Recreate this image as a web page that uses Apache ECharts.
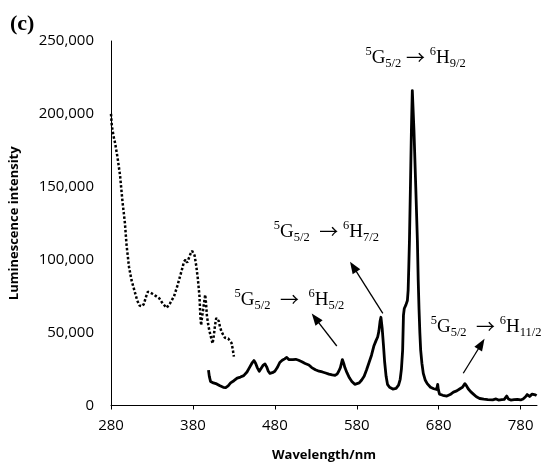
<!DOCTYPE html>
<html>
<head>
<meta charset="utf-8">
<script src="https://cdn.jsdelivr.net/npm/echarts@6/dist/echarts.min.js"></script>
<style>
  html, body { margin: 0; padding: 0; background: #fff; }
  #main { width: 550px; height: 470px; }
</style>
</head>
<body>
<div id="main"></div>
<script>
// excitation spectrum (dotted), [wavelength nm, intensity]
var excitation = [
  [280, 200000], [281, 192000], [283, 185000], [285, 180000], [288, 170000],
  [291, 158000], [294, 140000], [297, 125000], [299, 110000], [302, 95000],
  [305, 86000], [309, 78000], [312, 72000], [315, 68500], [318, 68000],
  [320, 69500], [323, 75000], [325, 78000], [328, 77500], [331, 76500],
  [335, 75000], [339, 73500], [343, 70000], [348, 67000], [352, 70000],
  [357, 75000], [361, 82000], [364, 88000], [367, 94000], [369, 98500],
  [371, 100000], [373, 98000], [375, 97000], [377, 104000], [379, 106000],
  [380, 105500], [382, 103000], [384, 96000], [386, 87000], [388, 75000],
  [389, 62000], [390, 55000], [391, 60000], [392.5, 66000], [394, 72000],
  [395, 76000], [396, 70000], [397, 62000], [398.5, 56000], [400, 51500],
  [402, 47000], [404, 42500], [405.5, 48000], [407, 55000], [408.5, 60000],
  [410, 61000], [411.5, 58000], [413, 54000], [415, 50500], [417, 48500],
  [419, 46500], [421, 47000], [423, 46000], [425, 45500], [427, 43000],
  [428.5, 39000], [430, 33500]
];

// emission spectrum (solid)
var emission = [
  [399, 24300], [400, 20000], [401.5, 16500], [405, 15500], [409, 14800],
  [413, 13500], [417, 12500], [420, 12300], [423, 13500], [426, 15500],
  [430, 17000], [434, 18800], [438, 19500], [442, 20500], [446, 23000],
  [449, 26000], [452, 29000], [454.5, 30800], [456.5, 29000], [458.5, 26000],
  [461, 23500], [463, 24500], [465.5, 27500], [468, 28500], [470, 26500],
  [472, 23500], [474, 22000], [477, 22500], [480, 23500], [483, 26000],
  [486, 29500], [489, 31000], [492, 32000], [494.5, 33000], [497, 31500],
  [499, 30500], [502, 31500], [505.5, 31700], [509, 31000], [513, 30000],
  [517, 28800], [521.5, 27800], [525, 26000], [529.5, 24500], [534, 23500],
  [538, 23000], [542, 22300], [546, 21500], [550, 21000], [553.5, 20700],
  [556, 21500], [558, 23500], [560, 26000], [562.4, 31500], [564, 29000],
  [565.5, 26000], [568, 22500], [571, 19000], [574, 16500], [577.6, 14500],
  [580, 14000], [583, 15500], [586, 17500], [589, 20000], [592, 24500],
  [595, 29500], [598, 34500], [601, 41000], [603.5, 44500], [605.5, 47000],
  [607, 51000], [608.5, 58000], [609.5, 60500], [611, 53000], [612.5, 42000],
  [614, 30000], [615.8, 20000], [617.5, 14500], [620, 12500], [624, 11300],
  [628, 11800], [631, 14000], [633, 18000], [634.5, 25000], [636, 38000],
  [637, 62000], [638, 66500], [640, 69000], [641.8, 72000], [642.7, 79000],
  [643.5, 95000], [644.3, 113000], [645.5, 150000], [646.7, 189000], [647.8, 216000],
  [649.8, 189000], [652, 150000], [654, 113000], [655, 86000], [656, 66000],
  [657, 50000], [658, 38000], [659.5, 29000], [661.2, 22000], [663.5, 17500],
  [666, 15000], [670, 12500], [674, 11500], [677.5, 11000], [678.8, 14500],
  [679.5, 11000], [681, 7800], [685, 7000], [690, 6500], [694, 7500],
  [698, 9200], [702, 10000], [706, 11500], [709, 12500], [712, 15000],
  [714, 13500], [716, 11500], [719, 9500], [722, 8000], [726, 6000],
  [730, 4800], [735, 4300], [740, 4000], [746, 3900], [750, 4500],
  [753, 3700], [757, 4000], [760, 4200], [763, 6500], [765, 4500],
  [768, 3700], [772, 4000], [776, 4200], [780, 3800], [783, 4500],
  [786, 6000], [788, 7500], [791, 6200], [794, 7800], [796, 7000],
  [798, 7300], [799.5, 6800]
];

var xTicks = [280, 380, 480, 580, 680, 780];

// transition labels: text position and arrow [from, to] in data units
var transitions = [
  { text: '{sup|5}{b|G}{sub|5/2}{b| }{arr|→}{b| }{sup|6}{b|H}{sub|9/2}', at: [651.8, 238300], arrow: null },
  { text: '{sup|5}{b|G}{sub|5/2}{b|  }{arr|→}{b| }{sup|6}{b|H}{sub|7/2}', at: [542.9, 119000], arrow: [[611.8, 63200], [575.7, 95200]] },
  { text: '{sup|5}{b|G}{sub|5/2}{b|  }{arr|→}{b|  }{sup|6}{b|H}{sub|5/2}', at: [497.8, 72400], arrow: [[555.6, 40800], [529.5, 59800]] },
  { text: '{sup|5}{b|G}{sub|5/2}{b|  }{arr|→}{b| }{sup|6}{b|H}{sub|11/2}', at: [737.9, 54000], arrow: [[710, 22100], [732.1, 42200]] }
];

var serif = 'Liberation Serif';
var rich = {
  b: { fontFamily: serif, fontSize: 19, lineHeight: 25, color: '#000' },
  arr: { fontFamily: 'Noto Sans CJK SC', fontSize: 19, lineHeight: 25, color: '#000' },
  sup: { fontFamily: serif, fontSize: 12.5, lineHeight: 13, verticalAlign: 'top', color: '#000' },
  sub: { fontFamily: serif, fontSize: 12.5, lineHeight: 13, verticalAlign: 'bottom', color: '#000' }
};

var chart = echarts.init(document.getElementById('main'), null, { renderer: 'canvas' });

var option = {
  animation: false,
  backgroundColor: '#fff',
  title: {
    text: '(c)',
    left: 5,
    top: 8,
    textStyle: { fontFamily: serif, fontWeight: 'bold', fontSize: 22, color: '#000' }
  },
  grid: { left: 106, right: 13, top: 41, bottom: 64.5 },
  xAxis: {
    type: 'value',
    min: 280,
    max: 800,
    name: 'Wavelength/nm',
    nameLocation: 'middle',
    nameGap: 43,
    nameTextStyle: { fontFamily: 'Open Sans', fontWeight: 'bold', fontSize: 13, color: '#000' },
    axisLine: { show: true, lineStyle: { color: '#000', width: 1 } },
    axisTick: { show: true, length: 4, customValues: xTicks, lineStyle: { color: '#000' } },
    axisLabel: { customValues: xTicks, margin: 13, fontFamily: 'Open Sans', fontSize: 15, color: '#000' },
    splitLine: { show: false }
  },
  yAxis: {
    type: 'value',
    min: 0,
    max: 250000,
    interval: 50000,
    name: 'Luminescence intensity',
    nameLocation: 'middle',
    nameGap: 90,
    nameTextStyle: { fontFamily: 'Open Sans', fontWeight: 'bold', fontSize: 13, color: '#000' },
    axisLine: { show: true, lineStyle: { color: '#000', width: 1 } },
    axisTick: { show: false },
    axisLabel: {
      margin: 17,
      fontFamily: 'Open Sans',
      fontSize: 15,
      color: '#000',
      formatter: function (v) { return v.toLocaleString('en-US'); }
    },
    splitLine: { show: false }
  },
  series: [
    {
      name: 'excitation',
      type: 'line',
      data: excitation,
      showSymbol: false,
      symbol: 'none',
      lineStyle: { color: '#000', width: 2.5, type: [2.5, 2] }
    },
    {
      name: 'emission',
      type: 'line',
      data: emission,
      showSymbol: false,
      symbol: 'none',
      lineStyle: { color: '#000', width: 2.8, join: 'round' },
      markLine: {
        silent: true,
        symbol: ['none', 'triangle'],
        symbolSize: [9, 12],
        label: { show: false },
        lineStyle: { color: '#000', width: 1.3, type: 'solid' },
        data: transitions.filter(function (t) { return t.arrow; }).map(function (t) {
          return [{ coord: t.arrow[0] }, { coord: t.arrow[1] }];
        })
      },
      markPoint: {
        silent: true,
        symbol: 'circle',
        symbolSize: 0,
        data: transitions.map(function (t) {
          return {
            coord: t.at,
            label: { show: true, position: 'inside', formatter: t.text, rich: rich }
          };
        })
      }
    }
  ]
};

chart.setOption(option);
</script>
</body>
</html>
